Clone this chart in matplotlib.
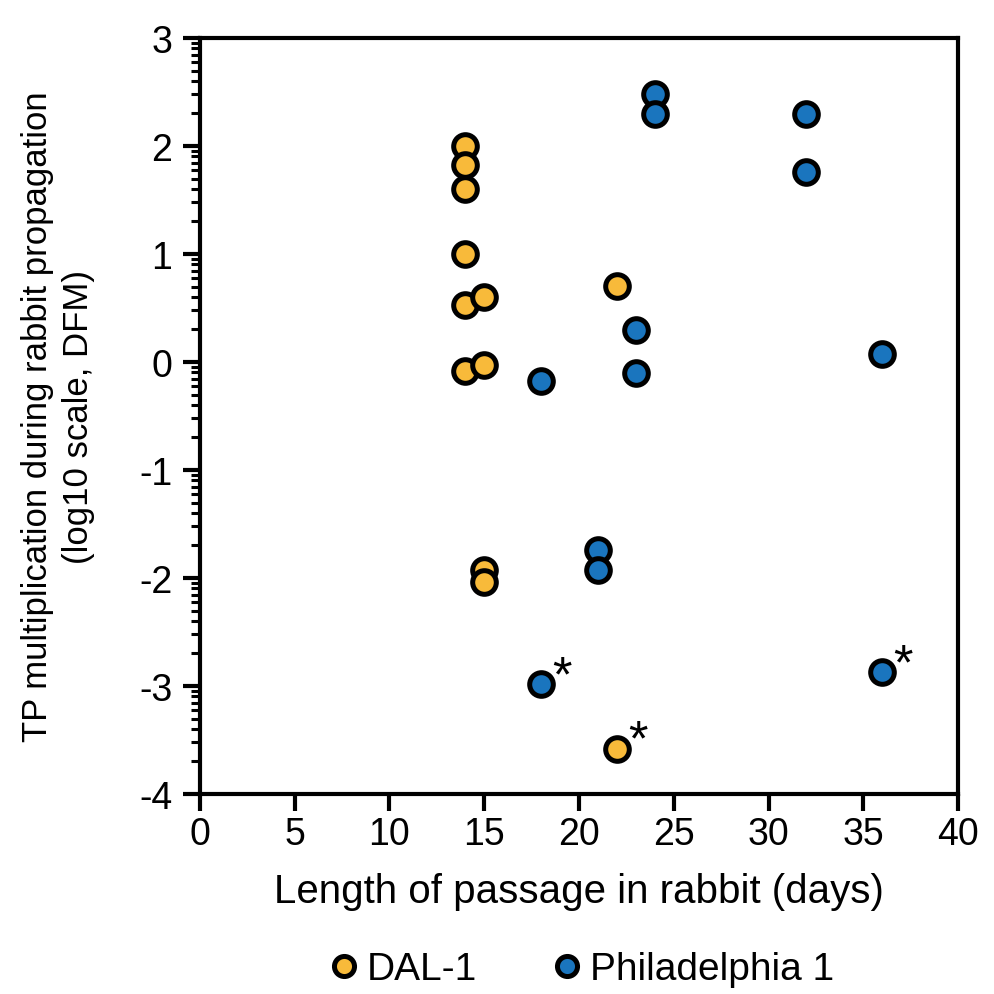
import numpy as np
import matplotlib.pyplot as plt

plt.rcParams['font.family'] = ['Liberation Sans', 'DejaVu Sans']
plt.rcParams['axes.unicode_minus'] = False

# DAL-1 strain
dal_days = [14, 14, 14, 14, 14, 15, 14, 15, 15, 15, 22, 22]
dal_log = [2.0, 1.82, 1.60, 1.0, 0.53, 0.60, -0.08, -0.03, -1.93, -2.04, 0.70, -3.58]
dal_star = [False] * 11 + [True]

# Philadelphia 1 strain
phi_days = [24, 24, 32, 32, 23, 23, 18, 36, 21, 21, 18, 36]
phi_log = [2.48, 2.30, 2.30, 1.76, 0.30, -0.10, -0.18, 0.07, -1.74, -1.93, -2.98, -2.87]
phi_star = [False] * 10 + [True, True]

orange = '#F8BA3A'
blue = '#1A75BE'

fig = plt.figure(figsize=(9.94, 9.95), dpi=100)
ax = fig.add_axes([0.2012, 0.201, 0.7626, 0.7598])

ax.plot(dal_days, dal_log, 'o', ms=17, mfc=orange, mec='black', mew=3.6, label='DAL-1', zorder=3)
ax.plot(phi_days, phi_log, 'o', ms=17, mfc=blue, mec='black', mew=3.6, label='Philadelphia 1', zorder=3)

# asterisks next to the flagged points
for xs, ys, st in [(dal_days, dal_log, dal_star), (phi_days, phi_log, phi_star)]:
    for x, y, s in zip(xs, ys, st):
        if s:
            ax.annotate('*', (x, y), xytext=(15, 5), textcoords='offset points',
                        fontsize=36, ha='center', va='center')

ax.set_xlim(0, 40)
ax.set_ylim(-4, 3)
ax.set_xticks(np.arange(0, 41, 5))
ax.set_yticks(np.arange(-4, 4, 1))
minor = [k + np.log10(m) for k in range(-4, 3) for m in range(2, 10)]
ax.set_yticks(minor, minor=True)

for sp in ax.spines.values():
    sp.set_linewidth(3)
ax.tick_params(axis='both', which='major', direction='out', length=12, width=3,
               labelsize=27)
ax.tick_params(axis='y', which='major', pad=8)
ax.tick_params(axis='x', which='major', pad=4)
ax.tick_params(axis='y', which='minor', direction='out', length=6.5, width=2.2)
ax.tick_params(axis='x', which='minor', length=0)

ax.set_xlabel('Length of passage in rabbit (days)', fontsize=29, labelpad=14)
ax.set_ylabel('TP multiplication during rabbit propagation\n(log10 scale, DFM)',
              fontsize=25, labelpad=32, linespacing=1.3)

fig.legend(loc='center', bbox_to_anchor=(0.5845, 0.025), ncol=2, frameon=False,
           fontsize=28, handlelength=0.8, handletextpad=0.2, columnspacing=1.9,
           markerscale=0.85, borderaxespad=0)

fig.savefig('out.png', dpi=100)
